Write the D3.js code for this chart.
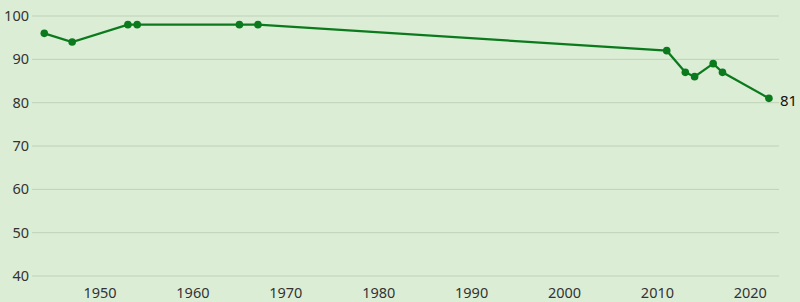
<!DOCTYPE html>
<html>
<head>
<meta charset="utf-8">
<script src="https://cdn.jsdelivr.net/npm/d3@7"></script>
<style>
  body { margin: 0; background: #dcedd6; }
  svg { display: block; font-family: "Noto Sans", "DejaVu Sans", sans-serif; }
  .grid line { stroke: #bfd2b8; stroke-width: 1; }
  .tick text { fill: #333; font-size: 14.5px; }
</style>
</head>
<body>
<svg id="chart"></svg>
<script>
// ---- data ----
const years  = [1944, 1947, 1953, 1954, 1965, 1967, 2011, 2013, 2014, 2016, 2017, 2022];
const values = [96, 94, 98, 98, 98, 98, 92, 87, 86, 89, 87, 81];
const yTicks = [40, 50, 60, 70, 80, 90, 100];
const xTicks = [1950, 1960, 1970, 1980, 1990, 2000, 2010, 2020];

const width = 800, height = 302;
const svg = d3.select('#chart').attr('width', width).attr('height', height);

const x = d3.scaleLinear().domain([1943, 2023.3]).range([35, 781]);
const y = d3.scaleLinear().domain([40, 100]).range([276, 16]);

//--- horizontal grid + y labels
const gy = svg.append('g').attr('class', 'grid');
gy.selectAll('line').data(yTicks).enter().append('line')
  .attr('x1', 32).attr('x2', 779)
  .attr('y1', d => y(d)).attr('y2', d => y(d));

svg.append('g').attr('class', 'tick').selectAll('text').data(yTicks).enter().append('text')
  .attr('x', 29).attr('y', d => y(d)).attr('dy', '0.35em')
  .attr('text-anchor', 'end').text(d => d);

//--- x labels
svg.append('g').attr('class', 'tick').selectAll('text').data(xTicks).enter().append('text')
  .attr('x', d => x(d)).attr('y', 293).attr('dy', '0.35em')
  .attr('text-anchor', 'middle').text(d => d);

//--- line + points
const pts = years.map((yr, i) => [yr, values[i]]);
svg.append('path').datum(pts)
  .attr('fill', 'none').attr('stroke', '#0b7a1d').attr('stroke-width', 2.2)
  .attr('d', d3.line().x(d => x(d[0])).y(d => y(d[1])));

svg.append('g').selectAll('circle').data(pts).enter().append('circle')
  .attr('cx', d => x(d[0])).attr('cy', d => y(d[1])).attr('r', 3.8)
  .attr('fill', '#0b7a1d');

//--- last value label
const last = pts[pts.length - 1];
svg.append('text')
  .attr('x', x(last[0]) + 11).attr('y', y(last[1]) + 2).attr('dy', '0.35em')
  .attr('font-size', 15).attr('fill', '#111').text(last[1]);
</script>
</body>
</html>
